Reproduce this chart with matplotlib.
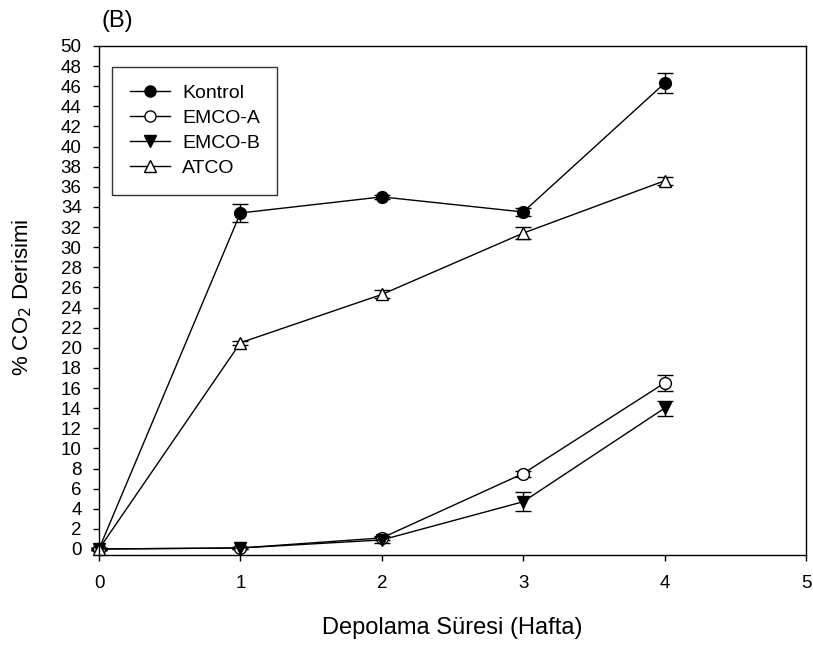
import matplotlib.pyplot as plt
from matplotlib.lines import Line2D
import numpy as np

plt.rcParams['font.family'] = ['Liberation Sans', 'DejaVu Sans']

# storage time (weeks)
weeks = [0, 1, 2, 3, 4]

# CO2 concentration (%) and standard errors for each treatment
kontrol = [0.0, 33.4, 35.0, 33.5, 46.3]
kontrol_err = [0.1, 0.9, 0.2, 0.4, 1.0]

emco_a = [0.0, 0.1, 1.1, 7.5, 16.5]
emco_a_err = [0.1, 0.1, 0.2, 0.3, 0.75]

emco_b = [0.0, 0.1, 0.9, 4.7, 14.0]
emco_b_err = [0.1, 0.1, 0.3, 0.95, 0.75]

atco = [0.0, 20.5, 25.3, 31.4, 36.6]
atco_err = [0.1, 0.2, 0.4, 0.6, 0.4]

series = [
    ('Kontrol', kontrol, kontrol_err, 'o', 'black'),
    ('EMCO-A', emco_a, emco_a_err, 'o', 'white'),
    ('EMCO-B', emco_b, emco_b_err, 'v', 'black'),
    ('ATCO', atco, atco_err, '^', 'white'),
]

fig = plt.figure(figsize=(8.13, 6.45), dpi=100)
ax = fig.add_axes([0.1218, 0.1395, 0.8696, 0.7892])

handles = []
for name, vals, err, mk, fc in series:
    eb = ax.errorbar(weeks, vals, yerr=err, marker=mk, mfc=fc, color='black',
                     lw=1.0, ms=8.5, mec='black', mew=1.0, capsize=5.5,
                     elinewidth=1.0, capthick=1.0)
    # let the markers at week 0 sit on the axis without being cut
    for art in eb.lines[0:1] + eb.lines[1] + eb.lines[2]:
        art.set_clip_on(False)
    handles.append(Line2D([], [], color='black', lw=1.0, marker=mk, mfc=fc,
                          mec='black', mew=1.0, ms=8, label=name))

ax.set_xlim(0, 5)
ax.set_ylim(-0.6, 50)
ax.set_xticks(np.arange(0, 6, 1))
ax.set_yticks(np.arange(0, 51, 2))
ax.tick_params(direction='out', length=4.5, width=1.0, labelsize=13.5,
               top=False, right=False)
ax.tick_params(axis='x', pad=10)
ax.tick_params(axis='y', pad=8)
for s in ax.spines.values():
    s.set_linewidth(1.0)

fig.text(452.5 / 813, 1 - 634 / 645, 'Depolama Süresi (Hafta)', fontsize=17,
         ha='center', va='baseline')
fig.text(22 / 813, 1 - 297 / 645, '% CO$_2$ Derisimi', fontsize=16,
         rotation=90, ha='center', va='center')
fig.text(101 / 813, 1 - 21 / 645, '(B)', fontsize=17, ha='left', va='center')

leg = ax.legend(handles=handles, loc='upper left',
                bbox_to_anchor=(0.0184, 0.9587), fontsize=14,
                frameon=True, fancybox=False, edgecolor='black',
                handlelength=2.1, handletextpad=0.6, labelspacing=0.38,
                borderpad=0.9, borderaxespad=0)
leg.get_frame().set_linewidth(1.0)

plt.savefig('out.png', dpi=100)
